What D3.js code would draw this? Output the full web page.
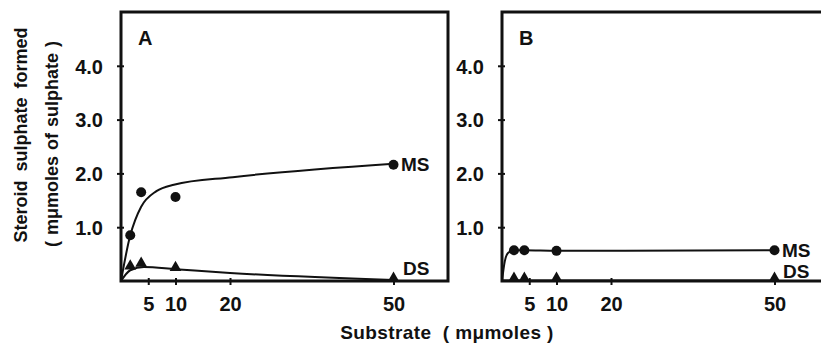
<!DOCTYPE html>
<html><head><meta charset="utf-8">
<script src="https://cdn.jsdelivr.net/npm/d3@7"></script>
<style>
body{margin:0;background:#fff;}
svg{display:block;}
text{font-family:"Liberation Sans",Arial,sans-serif;font-weight:bold;fill:#111;}
</style></head>
<body>
<svg id="c" width="821" height="344"></svg>
<script>
// ---- data ----
const yTicks = [1, 2, 3, 4];
const xTicks = [5, 10, 20, 50];

// Panel A
const aMSx = [1.7, 3.7, 10, 50];
const aMSy = [0.85, 1.65, 1.56, 2.16];
const aDSx = [1.7, 3.7, 10, 50];
const aDSy = [0.26, 0.31, 0.23, 0.03];
// fitted curves
const aMScurveX = [0, 1.7, 2.6, 3.7, 6.5, 9.7, 20.5, 50];
const aMScurveY = [0, 0.85, 1.13, 1.38, 1.67, 1.79, 1.93, 2.18];
const aDScurveX = [0, 1.7, 4.2, 10, 20, 50];
const aDScurveY = [0, 0.2, 0.26, 0.22, 0.15, 0.02];

// Panel B
const bMSx = [2.2, 4.1, 10, 50];
const bMSy = [0.57, 0.57, 0.56, 0.57];
const bDSx = [2.2, 4.1, 10, 50];
const bDSy = [0.03, 0.03, 0.03, 0.03];
const bMScurveX = [0, 0.5, 1.1, 2.2, 4.1, 10, 50];
const bMScurveY = [0, 0.36, 0.52, 0.57, 0.57, 0.56, 0.57];
const bDScurveX = [0, 2.2, 4.1, 10, 50];
const bDScurveY = [0.01, 0.01, 0.01, 0.01, 0.01];

const panels = [
  {name:"A", left:121, right:448, msX:aMSx, msY:aMSy, dsX:aDSx, dsY:aDSy,
   mcX:aMScurveX, mcY:aMScurveY, dcX:aDScurveX, dcY:aDScurveY, msLab:[401,164], dsLab:[403,268]},
  {name:"B", left:502, right:829, msX:bMSx, msY:bMSy, dsX:bDSx, dsY:bDSy,
   mcX:bMScurveX, mcY:bMScurveY, dcX:bDScurveX, dcY:bDScurveY, msLab:[782,250], dsLab:[783,271]}
];

const svg = d3.select("#c");
const plotTop = 12, plotBottom = 281;
const y = d3.scaleLinear().domain([0, 5]).range([plotBottom, plotBottom - 5*53.8]);

panels.forEach(p => {
  const x = d3.scaleLinear().domain([0, 60]).range([p.left, p.right]);
  const g = svg.append("g");

  // y axis ticks
  const ya = g.append("g").attr("transform", `translate(${p.left},0)`)
    .call(d3.axisLeft(y).tickValues(yTicks).tickFormat(d3.format(".1f")).tickSize(4).tickPadding(14));
  ya.select(".domain").remove();
  ya.selectAll(".tick line").attr("x2", -4).attr("x1", 3).attr("stroke", "#111").attr("stroke-width", 2);
  ya.selectAll("text").style("font-size", "20px").attr("dy", "0.36em");

  // x axis ticks
  const xa = g.append("g").attr("transform", `translate(0,${plotBottom})`)
    .call(d3.axisBottom(x).tickValues(xTicks).tickSize(4).tickPadding(12));
  xa.select(".domain").remove();
  xa.selectAll(".tick line").attr("y1", -3).attr("y2", 4).attr("stroke", "#111").attr("stroke-width", 2);
  xa.selectAll("text").style("font-size", "20px");

  // frame
  g.append("rect").attr("x", p.left).attr("y", plotTop)
    .attr("width", p.right - p.left).attr("height", plotBottom - plotTop)
    .attr("fill", "none").attr("stroke", "#111").attr("stroke-width", 3);

  // panel letter
  g.append("text").attr("x", p.left + 17).attr("y", 45).style("font-size", "20px").text(p.name);

  const line = d3.line().x(d => x(d[0])).y(d => y(d[1])).curve(d3.curveMonotoneX);
  const mc = p.mcX.map((v, i) => [v, p.mcY[i]]);
  const dc = p.dcX.map((v, i) => [v, p.dcY[i]]);
  g.append("path").attr("d", line(mc)).attr("fill", "none").attr("stroke", "#111").attr("stroke-width", 2);
  g.append("path").attr("d", line(dc)).attr("fill", "none").attr("stroke", "#111").attr("stroke-width", 2);

  // MS circles
  g.selectAll(".ms").data(p.msX.map((v, i) => [v, p.msY[i]])).join("circle")
    .attr("cx", d => x(d[0])).attr("cy", d => y(d[1])).attr("r", 5).attr("fill", "#111");
  // DS triangles
  const tri = d3.symbol().type(d3.symbolTriangle).size(60);
  g.selectAll(".ds").data(p.dsX.map((v, i) => [v, p.dsY[i]])).join("path")
    .attr("d", tri).attr("transform", d => `translate(${x(d[0])},${y(d[1]) - 1})`).attr("fill", "#111");

  g.append("text").attr("x", p.msLab[0]).attr("y", p.msLab[1]).attr("dy", "0.36em")
    .style("font-size", "19px").text("MS");
  g.append("text").attr("x", p.dsLab[0]).attr("y", p.dsLab[1]).attr("dy", "0.36em")
    .style("font-size", "19px").text("DS");
});

// axis titles
svg.append("text").attr("x", 447).attr("y", 339).attr("text-anchor", "middle").style("font-size", "19px")
  .style("letter-spacing", "0.4px").style("white-space", "pre").text("Substrate  ( mμmoles )");

svg.append("text").attr("transform", "translate(27,135) rotate(-90)").attr("text-anchor", "middle")
  .style("font-size", "18px").style("word-spacing", "4px").text("Steroid sulphate formed");
svg.append("text").attr("transform", "translate(58,144) rotate(-90)").attr("text-anchor", "middle")
  .style("font-size", "18px").style("word-spacing", "1px").style("white-space", "pre").text("( mμmoles of sulphate )");
</script>
</body></html>
